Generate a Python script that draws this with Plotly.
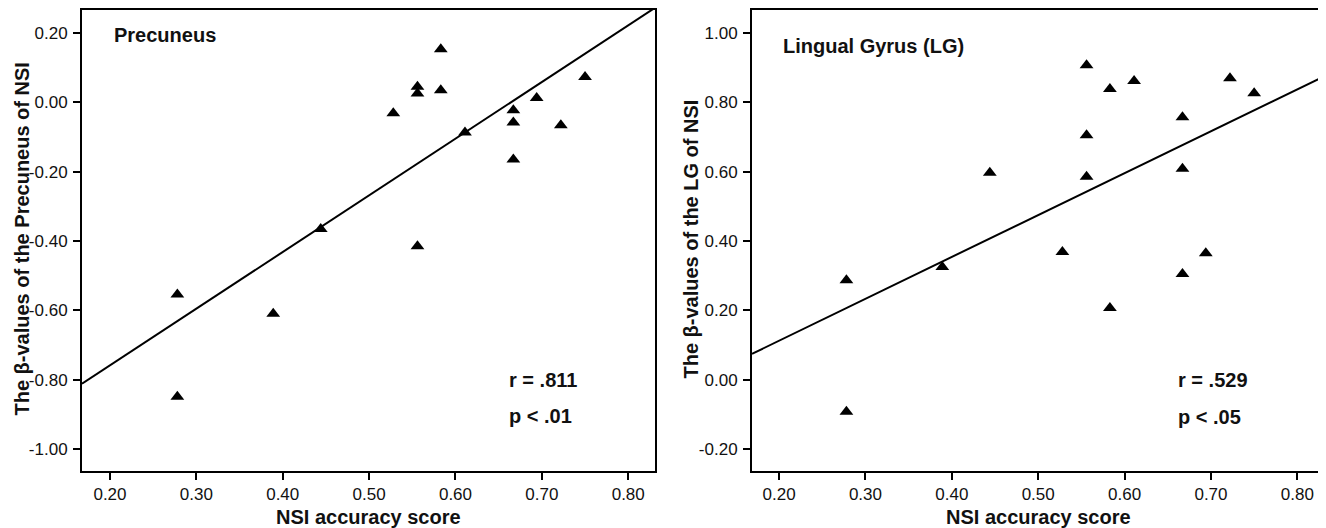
import numpy as np
import plotly.graph_objects as go

# ---- data ----
nsi_accuracy = [0.278, 0.278, 0.389, 0.444, 0.528, 0.556, 0.556, 0.556, 0.583, 0.583,
                0.611, 0.667, 0.667, 0.667, 0.694, 0.722, 0.750]
precuneus_beta = [-0.554, -0.849, -0.610, -0.365, -0.032, 0.045, 0.025, -0.415, 0.153, 0.035,
                  -0.087, -0.023, -0.058, -0.165, 0.012, -0.066, 0.073]
lg_nsi_accuracy = [0.278, 0.278, 0.389, 0.444, 0.528, 0.556, 0.556, 0.556, 0.583, 0.583,
                   0.611, 0.667, 0.667, 0.667, 0.694, 0.722, 0.750]
lg_beta = [0.287, -0.092, 0.325, 0.597, 0.368, 0.907, 0.705, 0.585, 0.838, 0.207,
           0.861, 0.757, 0.608, 0.305, 0.365, 0.869, 0.826]

x_ticks = [0.2, 0.3, 0.4, 0.5, 0.6, 0.7, 0.8]
left_y_ticks = [0.2, 0.0, -0.2, -0.4, -0.6, -0.8, -1.0]
right_y_ticks = [1.0, 0.8, 0.6, 0.4, 0.2, 0.0, -0.2]

left_stats = ["r = .811", "p < .01"]
right_stats = ["r = .529", "p < .05"]

# page body has an 8px margin; size the figure so it fills the rest of the window
OFF = 8
W, H = 1326 - OFF, 528 - OFF
FONT = "Liberation Sans, Arial, sans-serif"

left_xrange = [0.1676, 0.831]
left_yrange = [-1.063, 0.266]
right_xrange = [0.1687, 0.832]
right_yrange = [-0.263, 1.066]


def px(x):
    return (x - OFF) / W


def py(y):
    return 1 - (y - OFF) / H


def fmt(v):
    return "%.2f" % v


fig = go.Figure()


def add_panel(xs, ys, xref, yref, xr):
    fig.add_trace(go.Scatter(
        x=xs, y=ys, mode="markers", xaxis=xref, yaxis=yref,
        marker=dict(symbol="triangle-up", size=12, color="black"),
        showlegend=False, hoverinfo="x+y"))
    slope, intercept = np.polyfit(xs, ys, 1)
    lx = np.array(xr)
    fig.add_trace(go.Scatter(
        x=lx, y=slope * lx + intercept, mode="lines", xaxis=xref, yaxis=yref,
        line=dict(color="black", width=2), showlegend=False, hoverinfo="skip"))


add_panel(nsi_accuracy, precuneus_beta, "x", "y", left_xrange)
add_panel(lg_nsi_accuracy, lg_beta, "x2", "y2", right_xrange)

axis_common = dict(
    showgrid=False, zeroline=False, showline=True, linecolor="black", linewidth=2,
    mirror=True, ticks="outside", ticklen=7, tickwidth=1.5, tickcolor="black",
    tickfont=dict(family=FONT, size=17, color="#111"),
)

fig.update_layout(
    width=W, height=H,
    margin=dict(l=0, r=0, t=0, b=0),
    paper_bgcolor="white", plot_bgcolor="white",
    xaxis=dict(domain=[px(82), px(655)], range=left_xrange, tickvals=x_ticks,
               ticktext=[fmt(v) for v in x_ticks], anchor="y", **axis_common),
    yaxis=dict(domain=[py(471), py(10)], range=left_yrange, tickvals=left_y_ticks,
               ticktext=[fmt(v) for v in left_y_ticks], anchor="x",
               ticklabelstandoff=2, **axis_common),
    xaxis2=dict(domain=[px(752), px(1325)], range=right_xrange, tickvals=x_ticks,
                ticktext=[fmt(v) for v in x_ticks], anchor="y2", **axis_common),
    yaxis2=dict(domain=[py(471), py(10)], range=right_yrange, tickvals=right_y_ticks,
                ticktext=[fmt(v) for v in right_y_ticks], anchor="x2",
                ticklabelstandoff=2, **axis_common),
)

ann_font = dict(family=FONT, size=20, color="#111")
annotations = [
    # panel labels
    dict(text="<b>Precuneus</b>", x=px(112), y=py(35), xanchor="left", yanchor="middle"),
    dict(text="<b>Lingual Gyrus (LG)</b>", x=px(781), y=py(46), xanchor="left", yanchor="middle"),
    # stats
    dict(text="<b>%s</b>" % left_stats[0], x=px(507), y=py(380), xanchor="left", yanchor="middle"),
    dict(text="<b>%s</b>" % left_stats[1], x=px(507), y=py(416), xanchor="left", yanchor="middle"),
    dict(text="<b>%s</b>" % right_stats[0], x=px(1176), y=py(380), xanchor="left", yanchor="middle"),
    dict(text="<b>%s</b>" % right_stats[1], x=px(1176), y=py(417), xanchor="left", yanchor="middle"),
    # axis titles
    dict(text="<b>NSI accuracy score</b>", x=px(368.5), y=py(517), xanchor="center", yanchor="middle"),
    dict(text="<b>NSI accuracy score</b>", x=px(1038.5), y=py(517), xanchor="center", yanchor="middle"),
    dict(text="<b>The β-values of the Precuneus of NSI</b>", x=px(21), y=py(239.5),
         xanchor="center", yanchor="middle", textangle=-90),
    dict(text="<b>The β-values of the LG of NSI</b>", x=px(690), y=py(239.5),
         xanchor="center", yanchor="middle", textangle=-90),
]
for a in annotations:
    a.update(xref="paper", yref="paper", showarrow=False, font=ann_font)
fig.update_layout(annotations=annotations)

fig.write_html("out.html")
